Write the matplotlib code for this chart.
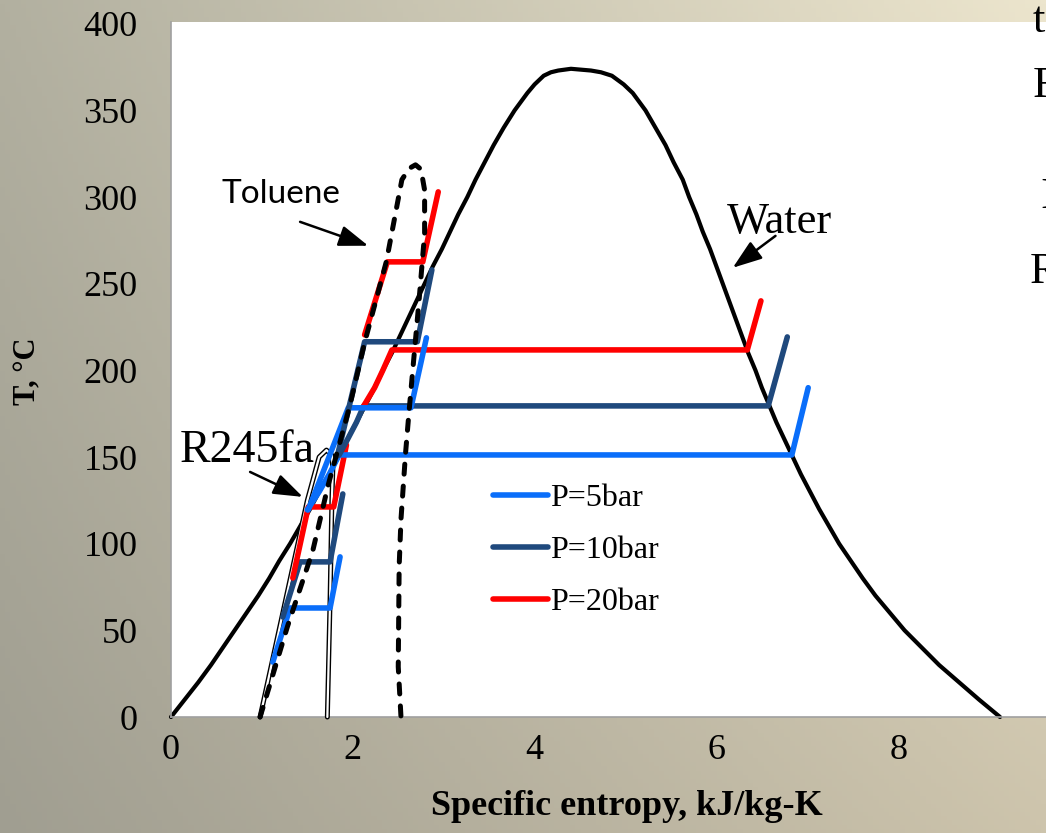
import numpy as np
import matplotlib
matplotlib.use('Agg')
import matplotlib.pyplot as plt
from matplotlib.lines import Line2D

# ---------------- data (s in kJ/kg-K, T in degC) ----------------
# water saturation dome
water_T  = [0, 10, 20, 30, 40, 50, 60, 70, 80, 90, 100, 110, 120, 130, 140, 150, 160, 170, 180,
            190, 200, 210, 220, 230, 240, 250, 260, 270, 280, 290, 300, 310, 320, 330, 340, 350,
            360, 365, 370, 372, 373, 374]
water_sl = [0.0, 0.15, 0.30, 0.44, 0.57, 0.70, 0.83, 0.96, 1.08, 1.19, 1.31, 1.42, 1.53, 1.63,
            1.74, 1.84, 1.94, 2.04, 2.14, 2.24, 2.33, 2.43, 2.52, 2.61, 2.70, 2.79, 2.88, 2.98,
            3.07, 3.16, 3.26, 3.35, 3.45, 3.55, 3.66, 3.78, 3.92, 4.00, 4.10, 4.18, 4.26, 4.40]
water_sv = [9.12, 8.89, 8.67, 8.45, 8.26, 8.07, 7.91, 7.75, 7.61, 7.48, 7.35, 7.24, 7.13, 7.03,
            6.93, 6.84, 6.75, 6.66, 6.58, 6.50, 6.43, 6.35, 6.28, 6.21, 6.14, 6.07, 6.00, 5.93,
            5.85, 5.78, 5.70, 5.63, 5.53, 5.44, 5.33, 5.22, 5.08, 4.98, 4.85, 4.73, 4.62, 4.40]

# toluene saturation dome (dashed), liquid side up then vapour side down
tol_s = [0.98, 1.28, 1.56, 1.73, 1.96, 2.13, 2.37, 2.54, 2.62, 2.69, 2.75, 2.79, 2.79, 2.73, 2.68, 2.62, 2.58, 2.53, 2.51, 2.50, 2.53]
tol_T = [0, 52, 96, 134, 178, 216, 263, 310, 316.5, 318.6, 316, 304, 279, 241, 212, 177, 152, 114, 87, 29, 0]

# R245fa saturation dome
r245_s = [0.98, 1.23, 1.50, 1.63, 1.71, 1.77, 1.78, 1.77, 1.75, 1.72]
r245_T = [0, 60, 125, 150, 154, 151, 143, 125, 67.5, 0]

# cycle paths: R245fa
r245_5_s  = [1.12, 1.31, 1.75, 1.86]
r245_5_T  = [31.7, 62.9, 62.9, 92.4]
r245_10_s = [1.23, 1.42, 1.75, 1.89]
r245_10_T = [57.7, 89.5, 89.5, 128.7]
r245_20_s = [1.34, 1.51, 1.79, 1.93]
r245_20_T = [80.2, 121.2, 121.2, 157.0]

# cycle paths: toluene
tol_5_s  = [1.51, 1.95, 2.64, 2.81]
tol_5_T  = [119.5, 178.4, 178.4, 218.8]
tol_10_s = [1.83, 2.13, 2.71, 2.87]
tol_10_T = [150.6, 216.5, 216.5, 258.0]
tol_20_s = [2.13, 2.38, 2.77, 2.94]
tol_20_T = [220.5, 262.6, 262.6, 303.0]

# cycle paths: water
wat_5_s  = [1.50, 1.63, 1.74, 1.85, 6.83, 7.01]
wat_5_T  = [119.5, 130, 140, 151.2, 151.2, 190.0]
wat_10_s = [1.85, 1.94, 2.04, 2.12, 6.57, 6.78]
wat_10_T = [151.2, 160, 170, 179.5, 179.5, 219.3]
wat_20_s = [2.12, 2.24, 2.33, 2.43, 6.34, 6.49]
wat_20_T = [179.5, 190, 200, 211.8, 211.8, 240.1]

pressures = ['P=5bar', 'P=10bar', 'P=20bar']
colors = ['#0A6EFA', '#1F497D', '#FF0000']

xticks = [0, 2, 4, 6, 8]
yticks = [0, 50, 100, 150, 200, 250, 300, 350, 400]

# ---------------- figure ----------------
W, H = 1046, 833
fig = plt.figure(figsize=(W / 100, H / 100), dpi=100)

# slide background gradient
u = np.linspace(0, 1, 200)[None, :]
v = np.linspace(0, 1, 200)[:, None]
tl = np.array([178, 176, 160]); tr = np.array([236, 229, 205])
bl = np.array([160, 158, 145]); br = np.array([205, 196, 172])
grad = ((1 - v)[..., None] * ((1 - u)[..., None] * tl + u[..., None] * tr)
        + v[..., None] * ((1 - u)[..., None] * bl + u[..., None] * br)) / 255.0
bg = fig.add_axes([0, 0, 1, 1])
bg.imshow(grad, aspect='auto', extent=[0, 1, 0, 1])
bg.axis('off')

ax = fig.add_axes([171 / W, (H - 717) / H, 909 / W, 695 / H])
ax.set_facecolor('white')
ax.set_xlim(0, 10)
ax.set_ylim(0, 401)
for side in ['top', 'right']:
    ax.spines[side].set_visible(False)
for side in ['left', 'bottom']:
    ax.spines[side].set_color('#a0a0a0')
    ax.spines[side].set_linewidth(1.2)

serif = 'Liberation Serif'
ax.set_xticks(xticks)
ax.set_yticks(yticks)
ax.tick_params(length=0, labelsize=26)
ax.tick_params(axis='y', pad=24)
ax.tick_params(axis='x', pad=12)
for lab in ax.get_xticklabels() + ax.get_yticklabels():
    lab.set_fontfamily(serif)

ax.set_xlabel('Specific entropy, kJ/kg-K', fontsize=26, fontweight='bold', family=serif)
ax.xaxis.set_label_coords(0.501, -0.105)
ax.set_ylabel('T, °C', fontsize=22, fontweight='bold', family=serif)
ax.yaxis.set_label_coords(-0.142, 0.498)

# water dome
ws = water_sl + water_sv[::-1]
wT = water_T + water_T[::-1]
ax.plot(ws, wT, color='black', lw=3.0, solid_joinstyle='round', solid_capstyle='round',
        zorder=2, clip_on=False)

# R245fa dome: white line with black outline
ax.plot(r245_s, r245_T, color='black', lw=3.6, solid_joinstyle='round',
        solid_capstyle='round', zorder=3, clip_on=False)
ax.plot(r245_s, r245_T, color='white', lw=1.6, solid_joinstyle='round',
        solid_capstyle='round', zorder=3.1, clip_on=False)

# cycles
cycles = [
    (r245_5_s, r245_5_T, 0), (r245_10_s, r245_10_T, 1), (r245_20_s, r245_20_T, 2),
    (wat_5_s, wat_5_T, 0), (wat_10_s, wat_10_T, 1), (wat_20_s, wat_20_T, 2),
    (tol_5_s, tol_5_T, 0), (tol_10_s, tol_10_T, 1), (tol_20_s, tol_20_T, 2),
]
for s, T, k in cycles:
    ax.plot(s, T, color=colors[k], lw=4.0, solid_capstyle='round',
            solid_joinstyle='round', zorder=4)

# toluene dome, dashed
ax.plot(tol_s, tol_T, color='black', lw=3.6, dashes=(2.0, 2.4), dash_capstyle='round',
        dash_joinstyle='round', zorder=5, clip_on=False)

# labels with arrows
arrow = dict(arrowstyle='-|>,head_length=0.9,head_width=0.32', color='black', lw=1.8,
             shrinkA=0, shrinkB=0, mutation_scale=20)
ax.annotate('', xy=(2.17, 271.9), xytext=(1.42, 285.7), arrowprops=arrow, zorder=6)
ax.annotate('', xy=(1.45, 127.0), xytext=(0.87, 141.4), arrowprops=arrow, zorder=6)
ax.annotate('', xy=(6.18, 259.2), xytext=(6.65, 277.6), arrowprops=arrow, zorder=6)

ax.text(0.56, 296.7, 'Toluene', fontsize=24, family='Lato', ha='left', va='baseline', zorder=6)
ax.text(0.10, 147.2, 'R245fa', fontsize=33, family=serif, ha='left', va='baseline', zorder=6)
ax.text(6.12, 279.4, 'Water', fontsize=32, family=serif, ha='left', va='baseline', zorder=6)

# legend
handles = [Line2D([], [], color=c, lw=4.0, solid_capstyle='round') for c in colors]
leg = ax.legend(handles, pressures, loc='upper left',
                bbox_to_anchor=(493 / W, 1 - 484 / H), bbox_transform=fig.transFigure,
                frameon=False, prop={'family': serif, 'size': 23},
                handlelength=1.72, handletextpad=0.08, labelspacing=0.7,
                borderpad=0, borderaxespad=0)
leg.set_zorder(7)

# slide text peeking at the right edge
for txt, x, y in [('t', 1033, 32), ('F', 1033, 97), ('I', 1040, 208), ('R', 1030, 283)]:
    fig.text(x / W, 1 - y / H, txt, fontsize=32, family=serif, ha='left', va='baseline')

fig.savefig('out.png', dpi=100)
